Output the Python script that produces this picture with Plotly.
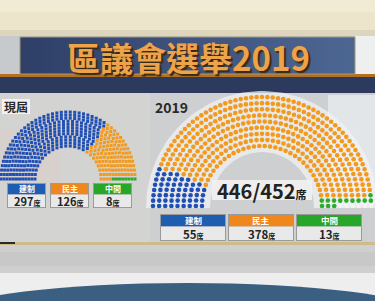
import numpy as np
import plotly.graph_objects as go

# ---------------- data ----------------
TITLE = "區議會選舉2019"
parties = ["建制", "民主", "中間"]
party_colors = ["#1f4fb4", "#f29a1e", "#2eaa2c"]
header_colors = ["#1f5db0", "#f0871c", "#27a62a"]

current_label = "現屆"
current_seats = [297, 126, 8]

new_label = "2019"
new_seats = [55, 378, 13]
pending_seats = 6          # not yet declared (452 - 446)
declared_total = 446
total_2019 = 452


def parliament(counts, rows, r0, r1):
    """Return (angles, radii, party index) for a hemicycle layout."""
    total = int(sum(counts))
    radii = np.linspace(r0, r1, rows)
    raw = total * radii / radii.sum()
    per = np.floor(raw).astype(int)
    rem = total - per.sum()
    order = np.argsort(-(raw - per))
    for i in order[:rem]:
        per[i] += 1
    seats = []
    for r, n in zip(radii, per):
        angs = np.linspace(np.pi, 0, n) if n > 1 else np.array([np.pi / 2])
        for a in angs:
            seats.append((a, r))
    seats.sort(key=lambda s: (-s[0], s[1]))
    idx = []
    for p, c in enumerate(counts):
        idx += [p] * int(c)
    a = np.array([s[0] for s in seats])
    r = np.array([s[1] for s in seats])
    return a, r, np.array(idx)


fig = go.Figure()
shapes = []


def rect(x0, y0, x1, y1, color, line=None, lw=0, layer="below"):
    shapes.append(dict(type="rect", xref="x", yref="y", x0=x0, y0=y0, x1=x1, y1=y1,
                       fillcolor=color, line=dict(width=lw, color=line or color),
                       layer=layer))


# ---------------- background ----------------
rect(0, 0, 375, 36, "#ede5cb")
rect(0, 0, 375, 12, "#f1ebd6")
rect(0, 30, 375, 37, "#ddd5bd")
rect(0, 36, 375, 75, "#c6cacc")
rect(355, 36, 375, 75, "#eef0f0")
rect(0, 74, 375, 77, "#b5701f")
rect(0, 77, 375, 93, "#2c3b5d")
rect(0, 93, 375, 244, "#cdcfd0")
rect(0, 93, 150, 244, "#d3d3d2")
rect(0, 130, 60, 185, "#d8d0cc")
rect(328, 95, 375, 205, "#e3e6e9")
rect(0, 242, 375, 245, "#cdbb8a")
rect(0, 242, 15, 244, "#2a2a2a")
rect(0, 245, 375, 273, "#cfcfcf")
rect(0, 252, 375, 266, "#c8c8c8")
rect(0, 273, 375, 301, "#eeeeee")
shapes.append(dict(type="circle", xref="x", yref="y", x0=-43, x1=417, y0=283, y1=341,
                   fillcolor="#3b5f80", line=dict(width=0), layer="below"))

# title banner with horizontal gradient
fig.add_trace(go.Scatter(x=[20, 355, 355, 20, 20], y=[37, 37, 74, 74, 37], mode="lines",
                         fill="toself", line=dict(width=1, color="#a89a70"),
                         fillgradient=dict(type="horizontal",
                                           colorscale=[[0, "#2f3f67"], [1, "#4d6793"]]),
                         hoverinfo="skip", showlegend=False))

# light annulus behind the 2019 hemicycle
cx2, cy2 = 262, 208
th = np.linspace(np.pi, 0, 80)
ox = cx2 + 116 * np.cos(th)
oy = cy2 - 117 * np.sin(th)
ix = cx2 + 52 * np.cos(th[::-1])
iy = cy2 - 56 * np.sin(th[::-1])
fig.add_trace(go.Scatter(x=np.r_[ox, ix, ox[0]], y=np.r_[oy, iy, oy[0]], mode="lines",
                         fill="toself", fillcolor="rgba(240,242,244,0.75)",
                         line=dict(width=0), hoverinfo="skip", showlegend=False))

# ---------------- hemicycles ----------------
# current council (squares)
cx1, cy1 = 68, 179
a, r, p = parliament(current_seats, 12, 33, 67)
cols = [party_colors[i] for i in p]
fig.add_trace(go.Scatter(x=cx1 + r * np.cos(a), y=cy1 - r * np.sin(a), mode="markers",
                         marker=dict(symbol="square", size=3.0, color=cols, line=dict(width=0)),
                         hoverinfo="skip", showlegend=False))

# 2019 (dots)
a, r, p = parliament(new_seats + [pending_seats], 9, 60, 109)
cols = [(party_colors + ["#f4f4f4"])[i] for i in p]
fig.add_trace(go.Scatter(x=cx2 + r * np.cos(a), y=cy2 - 2 - r * np.sin(a), mode="markers",
                         marker=dict(symbol="circle", size=4.6, color=cols, line=dict(width=0)),
                         hoverinfo="skip", showlegend=False))

ann = []
FONT = "Noto Sans CJK TC"


def text(x, y, s, size, color, bold=True, xanchor="center", shadow=None):
    f = dict(family=FONT, size=size, color=color, weight="bold" if bold else "normal")
    if shadow:
        f["shadow"] = shadow
    ann.append(dict(x=x, y=y, xref="x", yref="y", text=s, showarrow=False,
                    xanchor=xanchor, yanchor="middle", borderpad=0, font=f))


# title with shadow
text(188.5, 56.5, TITLE, 33, "#eea34a", shadow="2px 2px 1px #3b2a12")

# section labels
rect(2, 99, 30, 114, "#f2f2f2")
text(16, 106.5, current_label, 12, "#2a2a2a")
text(171, 106.5, new_label, 14, "#2a2a2a")

# 446/452 box
rect(212, 180, 312, 200, "#eeeeee")
text(262, 190, f"{declared_total}/{total_2019}<span style='font-size:11px'>席</span>",
     20, "#222222")

# legend boxes
def legend(xs, y0, ym, y1, counts, hsize, nsize, hy, ny):
    for (x0, x1), name, col, n in zip(xs, parties, header_colors, counts):
        rect(x0 - 1, y0 - 1, x1 + 1, y1 + 1, "#9a9a9a")
        rect(x0, y0, x1, ym, col)
        rect(x0, ym, x1, y1, "#e9e9e9")
        text((x0 + x1) / 2, hy, name, hsize, "#ffffff")
        text((x0 + x1) / 2, ny,
             f"{n}<span style='font-size:{int(nsize * 0.65)}px'>席</span>", nsize, "#222222")


legend([(8, 45), (51, 88), (94, 131)], 184, 194.5, 207, current_seats, 8, 11, 188.6, 201.4)
legend([(161, 225), (229, 293), (297, 361)], 215, 226.5, 240, new_seats, 8.5, 11.5, 220.4, 234)

fig.update_layout(
    width=375, height=301, autosize=False,
    margin=dict(l=0, r=0, t=0, b=0),
    paper_bgcolor="#cdcfd0", plot_bgcolor="#cdcfd0",
    xaxis=dict(range=[0, 375], visible=False, fixedrange=True),
    yaxis=dict(range=[301, 0], visible=False, fixedrange=True),
    shapes=shapes, annotations=ann, showlegend=False,
)

fig.write_html("out.html", config=dict(displayModeBar=False))
